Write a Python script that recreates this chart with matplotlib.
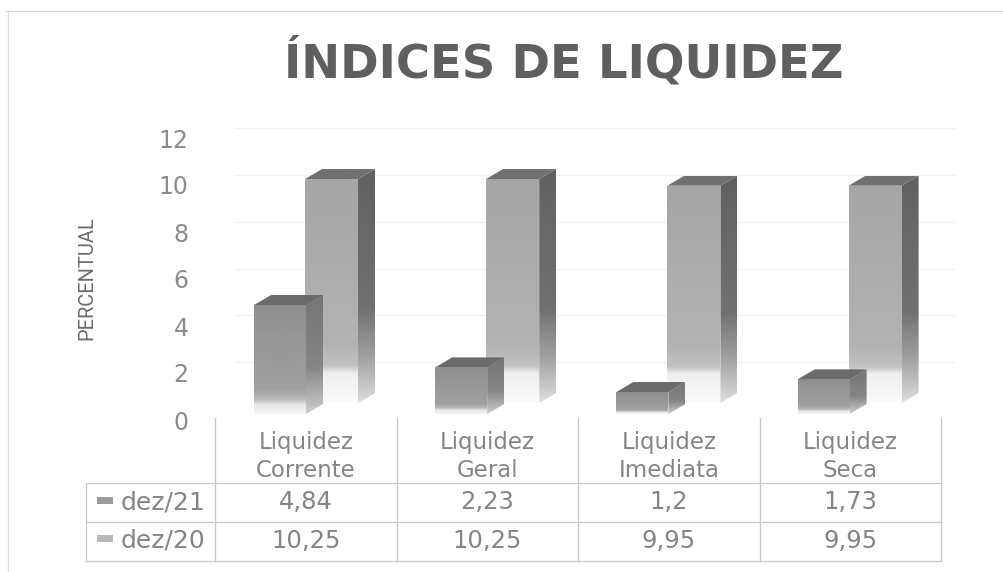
import matplotlib
matplotlib.use("Agg")
import matplotlib.pyplot as plt
import numpy as np
from matplotlib.patches import Polygon, Rectangle

categories = ["Liquidez\nCorrente", "Liquidez\nGeral", "Liquidez\nImediata", "Liquidez\nSeca"]
series_names = ["dez/21", "dez/20"]
dez21 = [4.84, 2.23, 1.2, 1.73]
dez20 = [10.25, 10.25, 9.95, 9.95]
dez21_labels = ["4,84", "2,23", "1,2", "1,73"]
dez20_labels = ["10,25", "10,25", "9,95", "9,95"]
y_ticks = [0, 2, 4, 6, 8, 10, 12]

W, H = 1004, 572
TABLE_X = [215, 397, 578, 760, 941]
DX, DY = 17, 10

# grey stops, (fraction of bar height from the top, level)
FRONT_21 = [(0, .56), (.78, .63), (.87, .72), (.92, .90), (1, .96)]
SIDE_21 = [(0, .46), (.6, .52), (1, .80)]
FRONT_20 = [(0, .65), (.75, .70), (.84, .76), (.87, .93), (1, .98)]
SIDE_20 = [(0, .38), (.6, .44), (.8, .62), (1, .86)]


def add_axes_px(fig, left, top, right, bottom):
    return fig.add_axes([left / W, 1 - bottom / H, (right - left) / W, (bottom - top) / H])


def shade(ax, verts, stops, z):
    # vertical grey gradient clipped to a polygon
    ys = [v[1] for v in verts]
    xs = [v[0] for v in verts]
    t = np.linspace(0, 1, 64)
    arr = np.interp(t, [s[0] for s in stops], [s[1] for s in stops]).reshape(-1, 1)
    im = ax.imshow(arr, cmap="gray", vmin=0, vmax=1, aspect="auto", interpolation="bilinear",
                   extent=(min(xs), max(xs), max(ys), min(ys)), zorder=z)
    patch = Polygon(verts, closed=True, transform=ax.transData, facecolor="none", edgecolor="none")
    ax.add_patch(patch)
    im.set_clip_path(patch)


def draw_bar(ax, left, width, base, floor, value, scale, front, side, top, z):
    y_top = base - value * scale
    right = left + width
    shade(ax, [(right, y_top), (right + DX, y_top - DY), (right + DX, floor - DY), (right, floor)], side, z)
    shade(ax, [(left, y_top), (left + DX, y_top - DY), (right + DX, y_top - DY), (right, y_top)],
          [(0, top), (1, top)], z)
    shade(ax, [(left, y_top), (right, y_top), (right, floor), (left, floor)], front, z)


fig = plt.figure(figsize=(W / 100, H / 100), dpi=100, facecolor="white")

# gridlines on the back wall
ax_wall = add_axes_px(fig, 235, 128, 955, 409)
ax_wall.set_xlim(0, 1)
ax_wall.set_ylim(0, 12)
ax_wall.axis("off")
for t in y_ticks[1:]:
    ax_wall.axhline(t, color="#efefef", lw=0.8)

ax_ticks = add_axes_px(fig, 215, 138, 235, 420)
ax_ticks.set_ylim(0, 12)
ax_ticks.set_xticks([])
ax_ticks.set_yticks(y_ticks)
ax_ticks.tick_params(axis="y", length=0, pad=19, labelsize=17, labelcolor="#8c8c8c")
for s in ax_ticks.spines.values():
    s.set_visible(False)
ax_ticks.patch.set_alpha(0)

ax = fig.add_axes([0, 0, 1, 1])
ax.patch.set_alpha(0)
ax.axis("off")

for i, cat in enumerate(categories):
    left = 254 + 181.2 * i
    draw_bar(ax, left + 51, 53, 407.6, 403, dez20[i], 22.3, FRONT_20, SIDE_20, .44, 2)
    draw_bar(ax, left, 52, 420.7, 414, dez21[i], 23.9, FRONT_21, SIDE_21, .42, 3)

# frame and data table
lc = "#c9c9c9"
ax.plot([6, W], [11, 11], color="#d8d8d8", lw=0.9)
ax.plot([8, 8], [11, H], color="#dedede", lw=0.9)
for x in TABLE_X:
    ax.plot([x, x], [418, 561], color=lc, lw=1.0)
for y in [483, 522, 561]:
    ax.plot([86, TABLE_X[-1]], [y, y], color=lc, lw=0.9)
ax.plot([86, 86], [483, 561], color=lc, lw=0.9)

txt = dict(color="#858585", ha="center", va="center")
for i, cat in enumerate(categories):
    xc = (TABLE_X[i] + TABLE_X[i + 1]) / 2
    ax.text(xc, 456.5, cat, fontsize=16.5, linespacing=1.3, **txt)
    ax.text(xc, 502, dez21_labels[i], fontsize=17.5, **txt)
    ax.text(xc, 541, dez20_labels[i], fontsize=17.5, **txt)

ax.add_patch(Rectangle((97, 497), 16, 7, facecolor="#9a9a9a", edgecolor="none"))
ax.add_patch(Rectangle((97, 535), 16, 7, facecolor="#b8b8b8", edgecolor="none"))
ax.text(121, 502, series_names[0], fontsize=18, color="#858585", ha="left", va="center")
ax.text(121, 541, series_names[1], fontsize=18, color="#858585", ha="left", va="center")

ax.text(564, 63, "ÍNDICES DE LIQUIDEZ", fontsize=33.5, fontweight="bold", color="#5f5f5f", ha="center", va="center")
ax.text(87, 278, "PERCENTUAL", fontsize=14.5, family="Roboto", color="#6c6c6c",
        rotation=90, ha="center", va="center")

ax.set_xlim(0, W)
ax.set_ylim(H, 0)

fig.savefig("out.png", dpi=100)
plt.close(fig)
